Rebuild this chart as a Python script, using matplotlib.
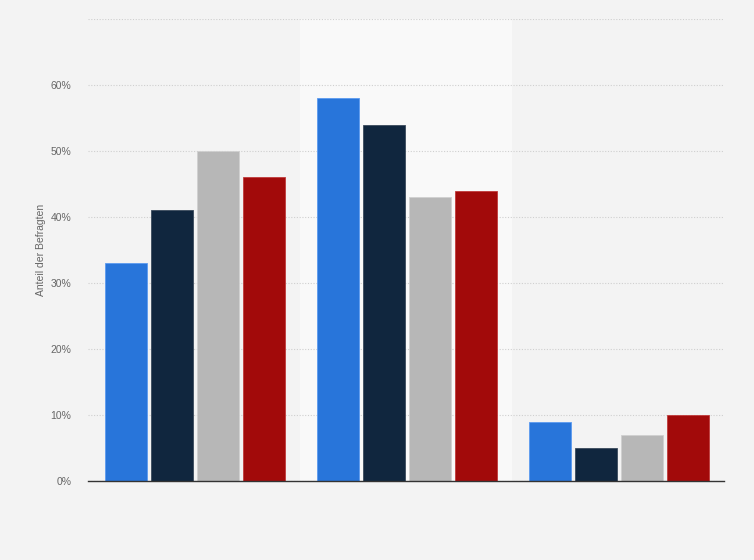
import matplotlib
matplotlib.use("Agg")
import matplotlib.pyplot as plt
import numpy as np

plt.rcParams["font.family"] = ["Liberation Sans", "DejaVu Sans"]

groups = ["Gruppe 1", "Gruppe 2", "Gruppe 3"]
series_names = ["Serie 1", "Serie 2", "Serie 3", "Serie 4"]
values = [
    [33, 58, 9],
    [41, 54, 5],
    [50, 43, 7],
    [46, 44, 10],
]
colors = ["#2875da", "#10263e", "#b7b7b7", "#a20a0a"]
edge_colors = ["#5b9af0", "#3a4a5c", "#d0d0d0", "#c03a3a"]
yticks = [0, 10, 20, 30, 40, 50, 60, 70]
ytick_labels = ["0%", "10%", "20%", "30%", "40%", "50%", "60%", ""]

fig = plt.figure(figsize=(7.54, 5.6), dpi=100)
fig.patch.set_facecolor("#f3f3f3")
ax = fig.add_axes([88 / 754, 1 - 481 / 560, (724 - 88) / 754, (481 - 19) / 560])
ax.set_facecolor("#f3f3f3")

x = np.arange(len(groups)) + 0.005
pitch = 0.217
width = 0.198
ax.axvspan(0.5, 1.5, color="#f9f9f9", zorder=0, lw=0)
for i, (vals, c, ec) in enumerate(zip(values, colors, edge_colors)):
    ax.bar(x + (i - 1.5) * pitch, vals, width=width, color=c,
           edgecolor=ec, linewidth=0.6, zorder=3, label=series_names[i])

ax.set_xlim(-0.5, 2.5)
ax.set_ylim(0, 70)
ax.set_yticks(yticks)
ax.set_yticklabels(ytick_labels)
ax.set_xticks([])
ax.yaxis.grid(True, linestyle=(0, (1, 1.5)), color="#cfcfcf", linewidth=0.8, zorder=1)
ax.tick_params(axis="y", length=0, pad=12, labelsize=7.5, labelcolor="#666666")
for s in ["top", "right", "left"]:
    ax.spines[s].set_visible(False)
ax.spines["bottom"].set_color("#333333")
ax.spines["bottom"].set_linewidth(1.0)
ax.spines["bottom"].set_zorder(4)
ax.set_ylabel("Anteil der Befragten", fontsize=7.5, color="#666666", labelpad=3)

fig.savefig("out.png", dpi=100, facecolor=fig.get_facecolor())
